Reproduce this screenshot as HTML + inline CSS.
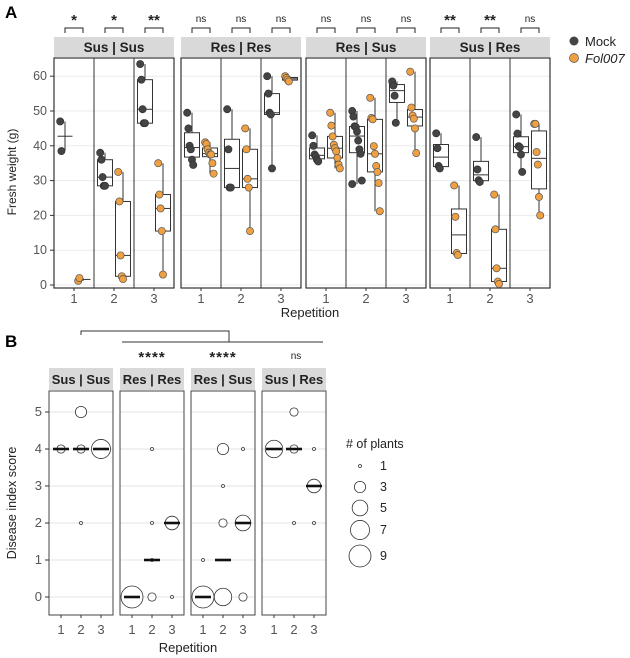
<!DOCTYPE html>
<html><head><meta charset="utf-8">
<style>
body{margin:0;background:#fff;}
svg{display:block;font-family:"Liberation Sans",Arial,sans-serif;}
</style></head>
<body>
<svg id="fig" width="630" height="658" viewBox="0 0 630 658" xmlns="http://www.w3.org/2000/svg"></svg>
<script>
// ---------- Panel A data ----------
const facetsA = ["Sus | Sus","Res | Res","Res | Sus","Sus | Res"];
const yTicksA = [0,10,20,30,40,50,60];
const sigA = [["*","*","**"],["ns","ns","ns"],["ns","ns","ns"],["**","**","ns"]];
const mockA = [
 [[47,38.5],[38,36,31,28.5,28.5],[63.5,59,50.5,46.5,46.5]],
 [[49.5,45,40,39,36,34.5],[50.5,39,28,28],[60,55,49.5,49,33.5]],
 [[43,40,37.5,37,36,35.5],[50,48.4,45.6,45.4,44.1,41.5,39,37.7,30,29],[58.5,57.3,54.4,46.6]],
 [[43.6,39.3,34.2,33.5],[42.5,33.2,30.1,29.6],[49,43.5,39.9,39.6,37.5,32.5]]
];
const folA = [
 [[1.2,2.0],[32.5,24,8.5,2.5,1.7],[35,26,22,15.5,3]],
 [[41,40.5,39,38,37.5,37.5,35,32],[45,39,30.5,28,15.5],[60,59.5,59,58.5]],
 [[49.5,45.8,42.7,40.3,39.3,38.4,36.5,34.6,33.5],[53.8,48,47.6,39.9,37.7,34.2,32.5,29.3,21.2],[61.3,51,48.7,47.8,45,37.9]],
 [[28.6,19.6,9.2,8.6],[26,16,4.8,1,0.3],[46.3,46.3,38.2,34.6,25.3,20]]
];
// ---------- Panel B data ----------
const facetsB = ["Sus | Sus","Res | Res","Res | Sus","Sus | Res"];
const yTicksB = [0,1,2,3,4,5];
const sigB = ["","****","****","ns"];
// each: [rep, score, count]
const countsB = [
 [[1,4,2],[2,5,3],[2,4,2],[2,2,1],[3,4,7]],
 [[1,0,9],[2,4,1],[2,2,1],[2,1,1],[2,0,2],[3,2,4],[3,0,1]],
 [[1,1,1],[1,0,9],[2,4,3],[2,3,1],[2,2,2],[2,0,6],[3,4,1],[3,2,5],[3,0,2]],
 [[1,4,6],[2,5,2],[2,4,2],[2,2,1],[3,4,1],[3,3,4],[3,2,1]]
];
const mediansB = [[4,4,4],[0,1,2],[0,1,2],[4,4,3]];
const legendSizes = [1,3,5,7,9];

const NS="http://www.w3.org/2000/svg";
const svg=document.getElementById('fig');
function el(tag,attrs,parent,text){const e=document.createElementNS(NS,tag);for(const k in attrs)e.setAttribute(k,attrs[k]);if(text!==undefined)e.textContent=text;(parent||svg).appendChild(e);return e;}

const yA=v=>285-v*3.48;
const facetLeftA=[54,181,306,430], facetW=120, plotTopA=58, plotBotA=288;
const repOff=[20,60,100];
const yB=v=>597-v*37;
const facetLeftB=[49,120,191,262], facetWB=64, plotTopB=391, plotBotB=615;
const repOffB=[12,32,52];
const rB=n=>Math.sqrt(2.25+(n-1)*14.8);

function quant(arr,p){const s=[...arr].sort((a,b)=>a-b);const h=(s.length-1)*p;const lo=Math.floor(h),hi=Math.ceil(h);return s[lo]+(s[hi]-s[lo])*(h-lo);}

// Panel A
let t=el('text',{x:5,y:18,'font-size':17,'font-weight':'bold',fill:'#000'},svg,'A');


facetsA.forEach((name,f)=>{
  const L=facetLeftA[f];
  const g=el('g',{});
  let r=el('rect',{x:L,y:37,width:facetW,height:20,fill:'#d9d9d9'},g);
  
  let s=el('text',{x:L+facetW/2,y:52,'text-anchor':'middle','font-size':13.5,'font-weight':'bold',fill:'#222'},g,name);
  
  yTicksA.forEach(v=>{el('line',{x1:L,x2:L+facetW,y1:yA(v),y2:yA(v),stroke:'#ebebeb','stroke-width':1},g);});
  for(let k=1;k<3;k++) el('line',{x1:L+k*40,x2:L+k*40,y1:plotTopA,y2:plotBotA,stroke:'#333','stroke-width':1},g);
  el('rect',{x:L,y:plotTopA,width:facetW,height:plotBotA-plotTopA,fill:'none',stroke:'#333','stroke-width':1.2},g);
  for(let rep=0;rep<3;rep++){
    const cx=L+repOff[rep];
    el('line',{x1:cx,x2:cx,y1:plotBotA,y2:plotBotA+3,stroke:'#333'},g);
    let tl=el('text',{x:cx,y:plotBotA+15,'text-anchor':'middle','font-size':13,fill:'#555'},g,String(rep+1));
    
    el('path',{d:`M${cx-9},33 V28 H${cx+9} V33`,fill:'none',stroke:'#222','stroke-width':1},g);
    const sg=sigA[f][rep];
    let st=el('text',{x:cx,y:sg==='ns'?22:25,'text-anchor':'middle','font-size':sg==='ns'?10:15,'font-weight':sg==='ns'?'normal':'bold',fill:'#222'},g,sg);
    
    [[mockA[f][rep],-9,'#444'],[folA[f][rep],9,'#f0a040']].forEach(([vals,off,col])=>{
      const bx=cx+off;
      const q1=quant(vals,.25),q2=quant(vals,.5),q3=quant(vals,.75),mn=Math.min(...vals),mx=Math.max(...vals);
      const bg=el('g',{},g);
      el('line',{x1:bx,x2:bx,y1:yA(mx),y2:yA(mn),stroke:'#333','stroke-width':1},bg);
      if(vals.length>2) el('rect',{x:bx-7.5,y:yA(q3),width:15,height:yA(q1)-yA(q3),fill:'#fff',stroke:'#333','stroke-width':1},bg);
      el('line',{x1:bx-7.5,x2:bx+7.5,y1:yA(q2),y2:yA(q2),stroke:'#333','stroke-width':1},bg);
      vals.forEach((v,i)=>{
        const jit=((i*37)%9-4)*1.2;
        const c=el('circle',{cx:bx+jit,cy:yA(v),r:3.6,fill:col,stroke:off<0?'#333':'#555','stroke-width':0.7},bg);
        
      });
    });
  }
});
yTicksA.forEach(v=>{
  el('line',{x1:50,x2:54,y1:yA(v),y2:yA(v),stroke:'#333'});
  let l=el('text',{x:47,y:yA(v)+4,'text-anchor':'end','font-size':12.5,fill:'#555'},svg,String(v));
  
});
t=el('text',{transform:'translate(16,172) rotate(-90)','text-anchor':'middle','font-size':12,fill:'#222'},svg,'Fresh weight (g)');

t=el('text',{x:310,y:317,'text-anchor':'middle','font-size':13,fill:'#222'},svg,'Repetition');

let lg=el('g',{});
el('circle',{cx:574,cy:41,r:4.5,fill:'#444'},lg);
t=el('text',{x:585,y:46,'font-size':13,fill:'#222'},lg,'Mock');
el('circle',{cx:574,cy:58,r:4.5,fill:'#f0a040',stroke:'#555','stroke-width':0.7},lg);
t=el('text',{x:585,y:63,'font-size':13,'font-style':'italic',fill:'#222'},lg,'Fol007');

// Panel B
t=el('text',{x:5,y:347,'font-size':17,'font-weight':'bold',fill:'#000'},svg,'B');

el('path',{d:'M81,335 V331 H229 V342',fill:'none',stroke:'#333','stroke-width':1});
el('line',{x1:122,x2:323,y1:342,y2:342,stroke:'#333','stroke-width':1});
facetsB.forEach((name,f)=>{
  const L=facetLeftB[f];
  const g=el('g',{});
  if(sigB[f]){
    const ns=sigB[f]==='ns';
    let st=el('text',{x:L+facetWB/2+(ns?2:0),y:ns?359:362,'text-anchor':'middle','font-size':ns?10:15,'font-weight':ns?'normal':'bold',fill:'#222','letter-spacing':ns?0:1},g,sigB[f]);
    
  }
  el('rect',{x:L,y:368,width:facetWB,height:22,fill:'#d9d9d9'},g);
  let s=el('text',{x:L+facetWB/2,y:384,'text-anchor':'middle','font-size':13,'font-weight':'bold',fill:'#222'},g,name);
  
  yTicksB.forEach(v=>el('line',{x1:L,x2:L+facetWB,y1:yB(v),y2:yB(v),stroke:'#e3e3e3'},g));
  el('rect',{x:L,y:plotTopB,width:facetWB,height:plotBotB-plotTopB,fill:'none',stroke:'#444','stroke-width':1},g);
  countsB[f].forEach(([rep,sc,n])=>{
    const c=el('circle',{cx:L+repOffB[rep-1],cy:yB(sc),r:rB(n),fill:'#fff',stroke:'#333','stroke-width':0.8},g);
    
  });
  mediansB[f].forEach((m,i)=>{
    const cx=L+repOffB[i];
    const ln=el('line',{x1:cx-8,x2:cx+8,y1:yB(m),y2:yB(m),stroke:'#111','stroke-width':2.6},g);
    
    el('line',{x1:cx,x2:cx,y1:plotBotB,y2:plotBotB+3,stroke:'#333'},g);
    let tl=el('text',{x:cx,y:634,'text-anchor':'middle','font-size':13,fill:'#555'},g,String(i+1));
    
  });
});
yTicksB.forEach(v=>{
  el('line',{x1:45,x2:49,y1:yB(v),y2:yB(v),stroke:'#333'});
  let l=el('text',{x:42,y:yB(v)+4,'text-anchor':'end','font-size':13,fill:'#555'},svg,String(v));
  
});
t=el('text',{transform:'translate(16,503) rotate(-90)','text-anchor':'middle','font-size':12.5,fill:'#222'},svg,'Disease index score');

t=el('text',{x:188,y:652,'text-anchor':'middle','font-size':13,fill:'#222'},svg,'Repetition');

lg=el('g',{});
t=el('text',{x:346,y:448,'font-size':12.5,fill:'#222'},lg,'# of plants');
const legY=[466,487,508,530,556];
legendSizes.forEach((n,i)=>{
  el('circle',{cx:360,cy:legY[i],r:rB(n),fill:'#fff',stroke:'#333','stroke-width':0.8},lg);
  let lt=el('text',{x:380,y:legY[i]+4,'font-size':12.5,fill:'#222'},lg,String(n));
  
});
</script>
</body></html>
